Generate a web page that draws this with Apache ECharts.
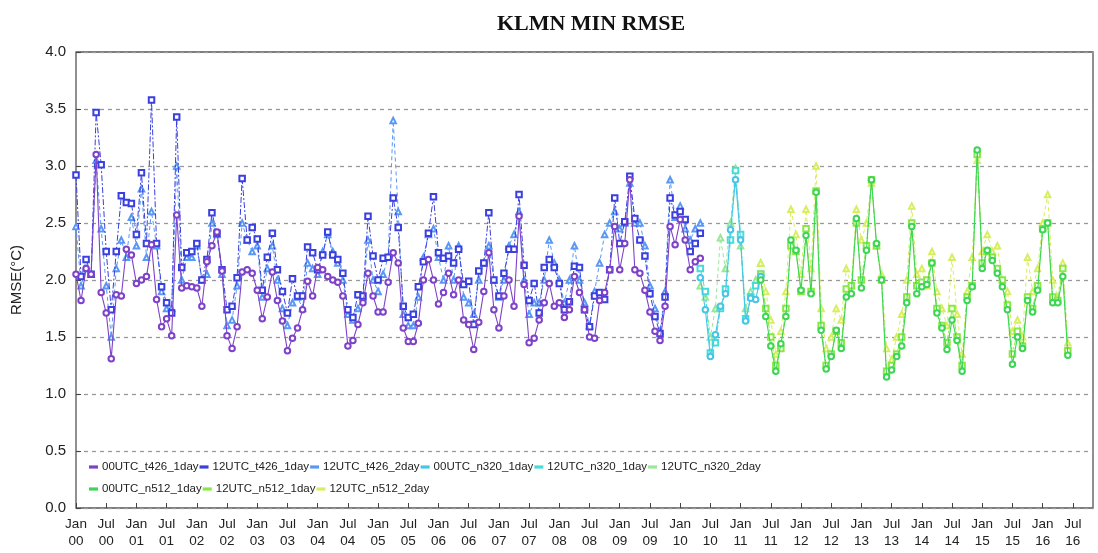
<!DOCTYPE html>
<html><head><meta charset="utf-8">
<script src="https://cdn.jsdelivr.net/npm/echarts@6/dist/echarts.min.js"></script>
<style>html,body{margin:0;padding:0;background:#fff}#c{width:1098px;height:553px}</style>
</head><body><div id="c"></div>
<script>
// x positions are month indices counted from Jan 2000 (0 = Jan 00)
const startT426 = 0, startN320 = 124, startN512 = 136;
const tickLabels = ['Jan\n00','Jul\n00','Jan\n01','Jul\n01','Jan\n02','Jul\n02','Jan\n03','Jul\n03','Jan\n04','Jul\n04','Jan\n05','Jul\n05','Jan\n06','Jul\n06','Jan\n07','Jul\n07','Jan\n08','Jul\n08','Jan\n09','Jul\n09','Jan\n10','Jul\n10','Jan\n11','Jul\n11','Jan\n12','Jul\n12','Jan\n13','Jul\n13','Jan\n14','Jul\n14','Jan\n15','Jul\n15','Jan\n16','Jul\n16'];
const tickMonths = [0,6,12,18,24,30,36,42,48,54,60,66,72,78,84,90,96,102,108,114,120,126,132,138,144,150,156,162,168,174,180,186,192,198];
const yTicks = [0,0.5,1,1.5,2,2.5,3,3.5,4];

const t426_00_1day = [2.05,1.82,2.1,2.05,3.1,1.89,1.71,1.31,1.87,1.86,2.27,2.22,1.97,2.0,2.03,2.31,1.83,1.59,1.66,1.51,2.57,1.93,1.95,1.94,1.93,1.77,2.16,2.3,2.42,2.08,1.51,1.40,1.59,2.07,2.09,2.06,1.91,1.66,1.85,2.07,1.82,1.64,1.38,1.49,1.58,1.74,1.99,1.86,2.11,2.09,2.03,2.0,1.98,1.86,1.42,1.47,1.61,1.80,2.06,1.86,1.72,1.72,1.98,2.24,2.15,1.58,1.46,1.46,1.62,2.0,2.18,2.0,1.79,1.89,2.06,1.87,2.0,1.65,1.61,1.39,1.63,1.90,2.24,1.74,1.58,1.86,2.0,1.77,2.56,1.96,1.45,1.49,1.65,1.80,1.97,1.77,1.80,1.67,1.74,2.03,1.89,1.74,1.50,1.49,1.82,1.89,2.09,2.47,2.09,2.32,2.88,2.09,2.06,1.91,1.72,1.55,1.47,1.77,2.47,2.31,2.53,2.35,2.09,2.16,2.19];
const t426_12_1day = [2.92,2.03,2.18,2.05,3.47,3.01,2.25,1.74,2.25,2.74,2.68,2.67,2.40,2.94,2.32,3.58,2.32,1.94,1.80,1.71,3.43,2.11,2.24,2.25,2.32,2.0,2.18,2.59,2.41,2.09,1.74,1.77,2.02,2.89,2.35,2.46,2.36,1.91,2.2,2.41,2.09,1.9,1.71,2.01,1.86,1.86,2.29,2.24,2.09,2.22,2.42,2.22,2.18,2.06,1.74,1.67,1.87,1.86,2.56,2.21,2.0,2.19,2.2,2.72,2.46,1.77,1.67,1.70,1.94,2.16,2.41,2.73,2.24,2.19,2.21,2.15,2.27,1.96,1.99,1.61,2.08,2.15,2.59,2.0,1.86,2.06,2.27,2.27,2.75,2.13,1.82,1.97,1.71,2.11,2.18,2.11,1.97,1.74,1.81,2.12,2.11,1.74,1.59,1.86,1.89,1.83,2.09,2.72,2.32,2.51,2.91,2.54,2.35,2.21,1.88,1.68,1.53,1.85,2.72,2.57,2.60,2.53,2.25,2.32,2.41];
const t426_12_2day = [2.47,1.95,2.1,2.05,3.05,2.45,1.95,1.5,2.1,2.35,2.2,2.55,2.3,2.8,2.2,2.6,2.3,1.9,1.75,1.75,3.0,2.0,2.2,2.2,2.3,2.0,2.05,2.5,2.4,2.05,1.6,1.65,1.95,2.5,2.35,2.25,2.3,1.85,2.1,2.3,2.0,1.75,1.6,1.8,1.85,1.75,2.15,2.1,2.05,2.25,2.4,2.25,2.15,2.0,1.7,1.65,1.75,1.85,2.35,2.0,1.9,2.05,2.2,3.4,2.6,1.7,1.6,1.6,1.85,2.2,2.4,2.45,2.2,2.0,2.3,2.0,2.3,1.85,1.8,1.7,2.0,2.15,2.3,2.0,1.85,2.0,2.3,2.4,2.6,2.0,1.7,1.8,1.8,2.0,2.35,2.15,2.0,1.8,2.0,2.3,2.0,1.8,1.6,1.9,2.15,2.4,2.5,2.6,2.45,2.5,2.85,2.5,2.5,2.3,1.95,1.75,1.55,1.9,2.88,2.55,2.65,2.45,2.35,2.45,2.5];
const n320_00_1day = [2.02,1.74,1.33,1.52,1.77,1.88,2.44,2.88,2.35,1.64,1.84,1.83,2.03];
const n320_12_1day = [2.1,1.9,1.36,1.45,1.75,1.92,2.35,2.96,2.4,1.66,1.85,1.95,2.05];
const n320_12_2day = [1.95,1.85,1.5,1.75,2.37,2.1,2.5,2.98,2.3,1.75,1.9,2.0,2.15];
const n512_00_1day = [2.0,1.68,1.42,1.20,1.44,1.68,2.35,2.26,1.91,2.39,1.88,2.77,1.56,1.22,1.33,1.56,1.40,1.85,1.88,2.54,1.93,2.26,2.88,2.32,2.0,1.15,1.21,1.33,1.42,1.80,2.47,1.88,1.94,1.96,2.15,1.71,1.58,1.39,1.65,1.47,1.20,1.82,1.94,3.14,2.1,2.26,2.17,2.06,1.94,1.74,1.26,1.50,1.40,1.82,1.72,1.91,2.44,2.50,1.80,1.80,2.03,1.34];
const n512_12_1day = [2.05,1.75,1.5,1.25,1.4,1.75,2.3,2.25,1.9,2.45,1.9,2.78,1.6,1.25,1.35,1.55,1.45,1.92,1.95,2.5,2.0,2.3,2.88,2.3,2.0,1.2,1.25,1.35,1.5,1.85,2.5,1.95,1.98,2.0,2.15,1.75,1.6,1.45,1.75,1.5,1.25,1.85,1.95,3.1,2.15,2.25,2.2,2.1,2.0,1.78,1.35,1.55,1.42,1.85,1.75,1.95,2.45,2.5,1.85,1.82,2.1,1.38];
const n512_12_2day = [2.15,1.9,1.65,1.35,1.55,1.9,2.62,2.4,2.05,2.62,2.1,3.0,1.75,1.4,1.5,1.75,1.65,2.1,1.95,2.62,2.35,2.5,2.85,2.3,2.05,1.4,1.3,1.5,1.7,2.0,2.65,2.05,2.1,1.95,2.25,1.9,1.75,1.6,2.2,1.7,1.35,1.9,2.2,3.05,2.25,2.4,2.25,2.3,2.0,1.9,1.55,1.65,1.5,2.2,1.9,2.1,2.5,2.75,2.0,1.85,2.15,1.45];

const names1 = ['00UTC_t426_1day','12UTC_t426_1day','12UTC_t426_2day','00UTC_n320_1day','12UTC_n320_1day','12UTC_n320_2day'];
const names2 = ['00UTC_n512_1day','12UTC_n512_1day','12UTC_n512_2day'];

function pts(start, arr){ return arr.map((v,i)=>[start+i, v]); }
function mk(name, start, arr, color, kind){
  const styles = {
    c: {symbol:'emptyCircle', type:'solid', z:5, w:1.1},
    s: {symbol:'emptyRect', type:[6,2,2,2], z:4, w:1},
    t: {symbol:'emptyTriangle', type:[4,3], z:3, w:1}
  }[kind];
  return {
    name, type:'line', data: pts(start, arr), z: styles.z,
    symbol: styles.symbol, symbolSize: 5.5, showSymbol:true,
    lineStyle:{color, width: styles.w, type: styles.type},
    itemStyle:{color, borderColor: color, borderWidth:0.9},
    emphasis:{disabled:true}
  };
}

const series = [
  mk(names1[0], startT426, t426_00_1day, '#7e42c8', 'c'),
  mk(names1[1], startT426, t426_12_1day, '#3a3fe0', 's'),
  mk(names1[2], startT426, t426_12_2day, '#5a98f5', 't'),
  mk(names1[3], startN320, n320_00_1day, '#45c6e8', 'c'),
  mk(names1[4], startN320, n320_12_1day, '#48dcd8', 's'),
  mk(names1[5], startN320, n320_12_2day, '#98e898', 't'),
  mk(names2[0], startN512, n512_00_1day, '#3cd654', 'c'),
  mk(names2[1], startN512, n512_12_1day, '#88e845', 's'),
  mk(names2[2], startN512, n512_12_2day, '#d8ee60', 't')
];

const legendText = {fontFamily:'Liberation Sans, Arial, sans-serif', fontSize:11.5, color:'#222'};
const chart = echarts.init(document.getElementById('c'), null, {renderer:'canvas'});
chart.setOption({
  animation:false,
  backgroundColor:'#fff',
  title:{text:'KLMN MIN RMSE', left:586, top:8, textAlign:'center',
    textStyle:{fontFamily:'Liberation Serif, Times New Roman, serif', fontWeight:'bold', fontSize:22, color:'#111'}},
  grid:{left:76, right:5, top:52, bottom:45, show:true, borderColor:'#555', borderWidth:1.3, containLabel:false},
  legend:[
    {data:names1, left:84, top:456, icon:'rect', itemWidth:7, itemHeight:1.2, itemGap:1,
     textStyle:legendText, selectedMode:false},
    {data:names2, left:84, top:478, icon:'rect', itemWidth:7, itemHeight:1.2, itemGap:1,
     textStyle:legendText, selectedMode:false}
  ],
  xAxis:{type:'value', min:0, max:202,
    axisLine:{show:false},
    axisTick:{show:true, inside:true, length:5, lineStyle:{color:'#444'}, customValues: tickMonths},
    axisLabel:{customValues: tickMonths, margin:8, lineHeight:17,
      fontFamily:'Liberation Sans, Arial, sans-serif', fontSize:13.5, color:'#222',
      formatter:(v)=>{const i = tickMonths.indexOf(v); return i>=0 ? tickLabels[i] : '';}},
    splitLine:{show:false}},
  yAxis:{type:'value', min:0, max:4, interval:0.5,
    name:'RMSE(\u00B0C)', nameLocation:'middle', nameGap:52,
    nameTextStyle:{fontFamily:'Liberation Sans, Arial, sans-serif', fontSize:15, color:'#222'},
    axisLine:{show:false},
    axisTick:{show:true, inside:true, length:5, lineStyle:{color:'#444'}},
    axisLabel:{margin:10, fontFamily:'Liberation Sans, Arial, sans-serif', fontSize:15, color:'#222',
      formatter:(v)=>{const i = yTicks.indexOf(v); return i>=0 ? yTicks[i].toFixed(1) : '';}},
    splitLine:{show:true, lineStyle:{color:'#999', width:1.3, type:[4,4]}}},
  series
});
</script>
</body></html>
